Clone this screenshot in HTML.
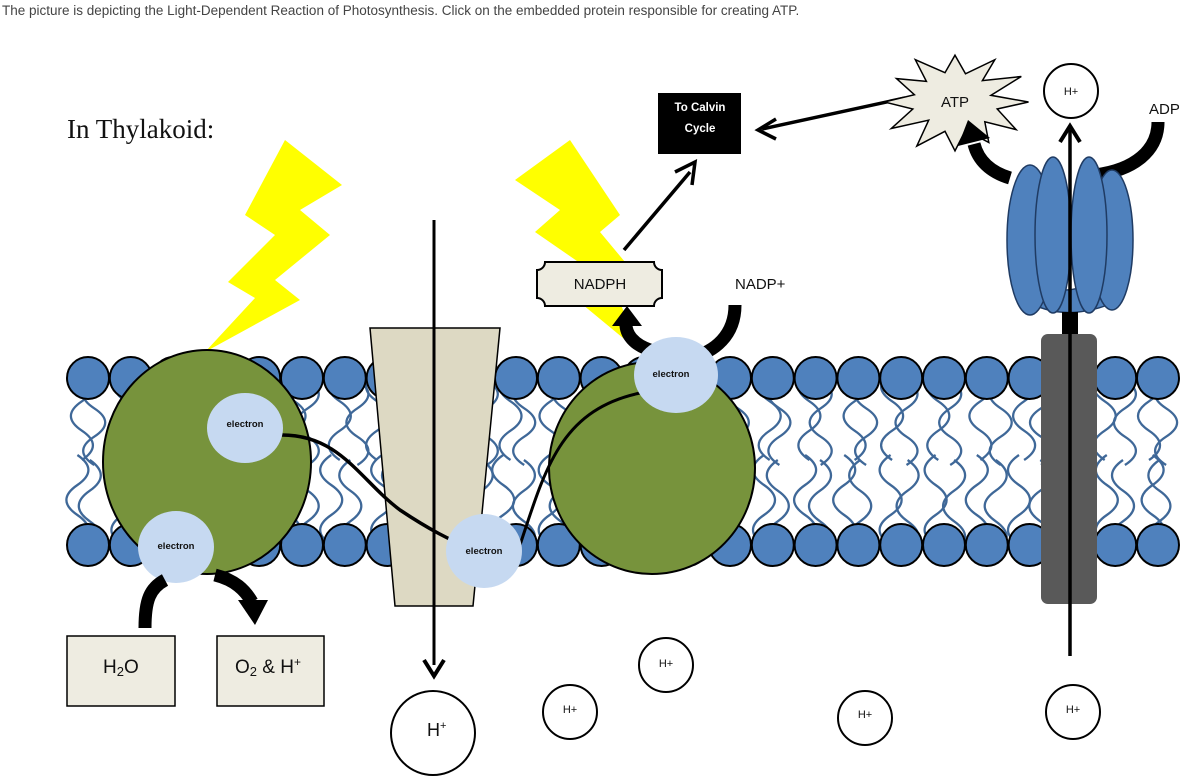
<!DOCTYPE html>
<html><head><meta charset="utf-8"><style>
html,body{margin:0;padding:0;background:#fff;width:1191px;height:784px;overflow:hidden}
svg{display:block}
text{font-family:"Liberation Sans",sans-serif}
</style></head><body>
<svg id="s" width="1191" height="784" viewBox="0 0 1191 784" xmlns="http://www.w3.org/2000/svg">
<text x="2" y="15" font-size="13.5" fill="#444">The picture is depicting the Light-Dependent Reaction of Photosynthesis. Click on the embedded protein responsible for creating ATP.</text>
<text x="67" y="138" font-size="27" style="font-family:'Liberation Serif',serif" fill="#111">In Thylakoid:</text>
<polygon points="285,140 342,185 300,210 330,235 275,280 300,300 205,352 255,298 228,282 275,235 245,215" fill="#ffff00"/>
<polygon points="570,140 515,180 560,210 535,232 590,270 565,290 640,352 615,290 640,280 600,232 620,215" fill="#ffff00"/>
<g id="tails" fill="none" stroke="#3f6898" stroke-width="2.3"></g>
<g id="heads" fill="#4f81bd" stroke="#000" stroke-width="2"></g>
<ellipse cx="207" cy="462" rx="104" ry="112" fill="#77933c" stroke="#000" stroke-width="2"/>
<polygon points="370,328 500,328 473,606 395,606" fill="#ddd9c3" stroke="#000" stroke-width="1.5"/>
<ellipse cx="652" cy="468" rx="103" ry="106" fill="#77933c" stroke="#000" stroke-width="2"/>
<path d="M282,435 C340,435 360,480 400,510 C430,530 450,540 470,548" fill="none" stroke="#000" stroke-width="3.5"/>
<path d="M520,545 C545,470 560,410 640,393" fill="none" stroke="#000" stroke-width="3"/>
<path d="M735,305 C735,335 715,352 690,358" fill="none" stroke="#000" stroke-width="13"/>
<path d="M650,350 C635,345 625,335 626,322" fill="none" stroke="#000" stroke-width="13"/>
<polygon points="612,326 627,306 642,326" fill="#000"/>
<g fill="#c6d9f1">
<ellipse cx="245" cy="428" rx="38" ry="35"/>
<ellipse cx="176" cy="547" rx="38" ry="36"/>
<ellipse cx="484" cy="551" rx="38" ry="37"/>
<ellipse cx="676" cy="375" rx="42" ry="38"/>
</g>
<g font-size="9.5" font-weight="bold" text-anchor="middle" fill="#111">
<text x="245" y="427">electron</text>
<text x="176" y="549">electron</text>
<text x="484" y="554">electron</text>
<text x="671" y="377">electron</text>
</g>
<line x1="434" y1="220" x2="434" y2="665" stroke="#000" stroke-width="3"/>
<polyline points="424,660 434,676 444,660" fill="none" stroke="#000" stroke-width="4"/>
<path d="M145,628 C145,600 150,588 165,580" fill="none" stroke="#000" stroke-width="13"/>
<path d="M215,575 C235,580 245,590 252,602" fill="none" stroke="#000" stroke-width="13"/>
<polygon points="238,600 268,600 255,625" fill="#000"/>
<rect x="67" y="636" width="108" height="70" fill="#eeece1" stroke="#000" stroke-width="1.5"/>
<rect x="217" y="636" width="107" height="70" fill="#eeece1" stroke="#000" stroke-width="1.5"/>
<text x="103" y="673" font-size="19" fill="#111">H<tspan font-size="13" dy="3">2</tspan><tspan dy="-3">O</tspan></text>
<text x="235" y="673" font-size="19" fill="#111">O<tspan font-size="13" dy="3">2</tspan><tspan dy="-3"> &amp; H</tspan><tspan font-size="12" dy="-7">+</tspan></text>
<path d="M545,262 L654,262 A8,8 0 0 0 662,270 L662,298 A8,8 0 0 0 654,306 L545,306 A8,8 0 0 0 537,298 L537,270 A8,8 0 0 0 545,262 Z" fill="#eeece1" stroke="#000" stroke-width="2"/>
<text x="600" y="289" font-size="15" text-anchor="middle" fill="#111">NADPH</text>
<text x="735" y="289" font-size="15" fill="#111">NADP+</text>
<line x1="624" y1="250" x2="690" y2="172" stroke="#000" stroke-width="3.5"/>
<polyline points="675,172 695,162 692,185" fill="none" stroke="#000" stroke-width="3.5"/>
<rect x="658" y="93" width="83" height="61" fill="#000"/>
<text x="700" y="111" font-size="11.5" font-weight="bold" fill="#fff" text-anchor="middle">To Calvin</text>
<text x="700" y="132" font-size="11.5" font-weight="bold" fill="#fff" text-anchor="middle">Cycle</text>
<line x1="905" y1="98" x2="762" y2="129" stroke="#000" stroke-width="3.5"/>
<polyline points="776,119 758,130 776,139" fill="none" stroke="#000" stroke-width="3.5"/>
<polygon id="star" fill="#eeece1" stroke="#000" stroke-width="1.5"/>
<text x="955" y="107" font-size="15" text-anchor="middle" fill="#111">ATP</text>
<path d="M1010,178 C990,172 978,160 974,144" fill="none" stroke="#000" stroke-width="13"/>
<polygon points="958,146 968,120 990,138" fill="#000"/>
<path d="M1095,175 C1135,170 1158,150 1158,122" fill="none" stroke="#000" stroke-width="13"/>
<g fill="#4f81bd" stroke="#1f3b63" stroke-width="1.5">
<path d="M1020,260 Q1060,320 1120,260 L1120,300 Q1065,325 1025,300 Z"/>
<ellipse cx="1030" cy="240" rx="23" ry="75"/>
<ellipse cx="1112" cy="240" rx="21" ry="70"/>
<ellipse cx="1053" cy="235" rx="18" ry="78"/>
<ellipse cx="1089" cy="235" rx="18" ry="78"/>
</g>
<rect x="1062" y="312" width="16" height="25" fill="#000"/>
<rect x="1041" y="334" width="56" height="270" rx="7" fill="#595959"/>
<line x1="1070" y1="656" x2="1070" y2="130" stroke="#000" stroke-width="3.5"/>
<polyline points="1060,142 1070,126 1080,142" fill="none" stroke="#000" stroke-width="4"/>
<text x="1149" y="114" font-size="15" fill="#111">ADP</text>
<g fill="#fff" stroke="#000" stroke-width="2">
<circle cx="1071" cy="91" r="27"/>
<circle cx="433" cy="733" r="42"/>
<circle cx="570" cy="712" r="27"/>
<circle cx="666" cy="665" r="27"/>
<circle cx="865" cy="718" r="27"/>
<circle cx="1073" cy="712" r="27"/>
</g>
<g font-size="11" text-anchor="middle" fill="#111">
<text x="1071" y="95">H+</text>
<text x="570" y="713">H+</text>
<text x="666" y="667">H+</text>
<text x="865" y="718">H+</text>
<text x="1073" y="713">H+</text>
</g>
<text x="427" y="736" font-size="18" fill="#111">H<tspan font-size="11" dy="-7">+</tspan></text>
</svg>
<script>
var ns="http://www.w3.org/2000/svg";
var heads=document.getElementById('heads'),tails=document.getElementById('tails');
var seed=7;function rnd(){seed=(seed*9301+49297)%233280;return seed/233280;}
for(var x=88;x<1175;x+=42.8){
 [378,545].forEach(function(y){var c=document.createElementNS(ns,'circle');c.setAttribute('cx',x);c.setAttribute('cy',y);c.setAttribute('r',21);heads.appendChild(c);});
 [[-6,372,460],[10,380,465],[-10,455,545],[6,460,552]].forEach(function(t){
  var x0=x+t[0]+(rnd()-0.5)*10;var d='M'+x0.toFixed(1)+','+t[1];var n=3;var h=(t[2]-t[1])/n;var s=rnd()>0.5?1:-1;
  for(var k=1;k<=n;k++){var dx=(k%2?22:-22)*s;d+=' Q'+(x0+dx).toFixed(1)+','+(t[1]+h*(k-0.5)).toFixed(1)+' '+x0.toFixed(1)+','+(t[1]+h*k).toFixed(1);}
  var p=document.createElementNS(ns,'path');p.setAttribute('d',d);tails.appendChild(p);});
}
var pts=[],cx=955,cy=102,N=12;
for(var i=0;i<N*2;i++){var a=i*Math.PI/N-Math.PI/2;var r=i%2?0.55:1;var rx=75*r*(0.9+((i*37)%5)/25),ry=52*r*(0.9+((i*53)%5)/25);pts.push((cx+rx*Math.cos(a)).toFixed(1)+','+(cy+ry*Math.sin(a)).toFixed(1));}
document.getElementById('star').setAttribute('points',pts.join(' '));
</script>
</body></html>
